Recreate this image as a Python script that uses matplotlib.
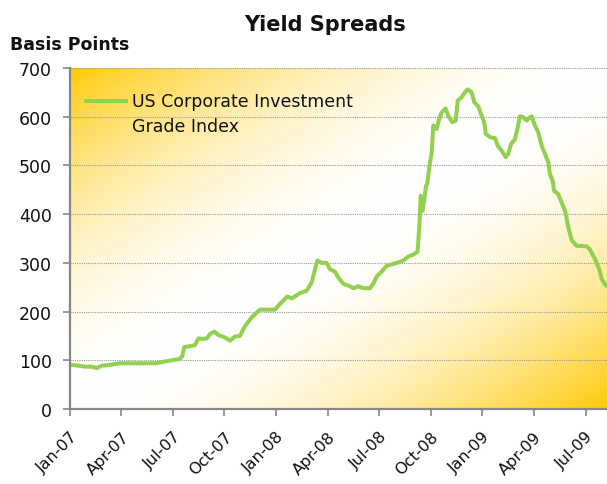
import numpy as np
import matplotlib
matplotlib.use('Agg')
import matplotlib.pyplot as plt

# ---- data (months since Jan-2007, spread in basis points) ----
months = [0.00, 0.50, 0.89, 1.28, 1.57, 1.86, 2.24, 2.92, 3.60, 4.38, 5.06, 5.44,
          5.93, 6.41, 6.55, 6.66, 6.99, 7.28, 7.48, 7.77, 7.97, 8.16, 8.41, 8.64,
          9.03, 9.32, 9.61, 9.90, 10.19, 10.58, 11.06, 11.94, 12.23, 12.65, 12.91,
          13.39, 13.78, 14.07, 14.40, 14.65, 14.94, 15.13, 15.42, 15.62, 15.91,
          16.30, 16.49, 16.78, 17.07, 17.46, 17.65, 17.85, 18.14, 18.43, 18.72,
          19.10, 19.40, 19.69, 19.98, 20.23, 20.33, 20.41, 20.52, 20.66, 20.72,
          20.79, 20.91, 21.05, 21.14, 21.34, 21.43, 21.63, 21.86, 22.01, 22.24,
          22.44, 22.56, 22.79, 22.98, 23.14, 23.37, 23.52, 23.76, 23.95, 24.10,
          24.19, 24.44, 24.73, 24.88, 25.12, 25.35, 25.50, 25.66, 25.89, 26.05,
          26.18, 26.37, 26.57, 26.76, 26.86, 27.05, 27.24, 27.44, 27.63, 27.83,
          27.92, 28.08, 28.16, 28.41, 28.60, 28.80, 28.99, 29.19, 29.48, 30.06,
          30.24, 30.54, 30.79, 30.93, 31.18]
spread_bp = [91, 89, 87, 87, 84, 89, 90, 94, 94, 94, 94, 97,
             100, 103, 109, 127, 129, 131, 145, 144, 145, 154, 159, 152,
             147, 140, 149, 150, 170, 188, 204, 204, 216, 231, 227,
             238, 243, 260, 305, 300, 300, 287, 282, 270, 257,
             252, 248, 252, 248, 248, 257, 272, 282, 294, 297,
             301, 305, 313, 317, 323, 376, 438, 407, 441, 458,
             462, 496, 527, 582, 575, 589, 609, 617, 602, 589,
             592, 633, 640, 650, 656, 650, 630, 621, 602, 589,
             565, 558, 556, 541, 530, 517, 524, 544, 554, 578,
             601, 599, 592, 599, 601, 582, 568, 541, 524, 506,
             482, 469, 448, 441, 424, 407, 373, 346, 335, 334,
             328, 308, 287, 267, 253]
tick_pos = [0, 3, 6, 9, 12, 15, 18, 21, 24, 27, 30]
tick_labels = ['Jan-07', 'Apr-07', 'Jul-07', 'Oct-07', 'Jan-08', 'Apr-08',
               'Jul-08', 'Oct-08', 'Jan-09', 'Apr-09', 'Jul-09']
y_ticks = [0, 100, 200, 300, 400, 500, 600, 700]
series_name = ['US Corporate Investment', 'Grade Index']

XMAX = 31.24
YMAX = 700

fig = plt.figure(figsize=(6.07, 4.85), dpi=100)
fig.patch.set_facecolor('white')
ax = fig.add_axes([0.1148, 0.1546, 0.8852, 0.7031])

# diagonal gradient background: gold corners (top-left, bottom-right), white band
n = 500
u = np.linspace(0, 1, n)
U, V = np.meshgrid(u, u)  # V: 0 at top row
t = (U + V) / 2.0
w = np.clip(np.abs(2 * t - 1), 0, 1) ** 1.9
gold = np.array([1.0, 0.79, 0.02])
img = 1 - w[..., None] * (1 - gold)
ax.imshow(img, extent=[0, XMAX, 0, YMAX], aspect='auto', origin='upper',
          zorder=0, interpolation='bilinear')

# grid
for yv in y_ticks[1:]:
    ax.axhline(yv, color='#9a9a9a', lw=0.8, ls=(0, (1, 1)), zorder=1)

line_color = '#92D050'
ax.plot(months, spread_bp, color=line_color, lw=2.9, zorder=3,
        solid_joinstyle='round', solid_capstyle='round')

ax.set_xlim(0, XMAX)
ax.set_ylim(0, YMAX)
ax.set_yticks(y_ticks)
ax.set_xticks(tick_pos)
ax.set_xticklabels(tick_labels, rotation=45, ha='right', rotation_mode='anchor')

for s in ['top', 'right']:
    ax.spines[s].set_visible(False)
for s in ['left', 'bottom']:
    ax.spines[s].set_color('#868686')
    ax.spines[s].set_linewidth(1.6)
    ax.spines[s].set_zorder(4)

ax.tick_params(axis='both', colors='#868686', width=1.2, length=5,
               labelcolor='#111111', labelsize=12.5)
ax.tick_params(axis='y', pad=8)
ax.tick_params(axis='x', pad=9, labelsize=11.5)

# legend (manual to keep the handle aligned with the first text line)
ax.plot([0.027, 0.108], [0.903, 0.903], transform=ax.transAxes,
        color=line_color, lw=2.9, zorder=5, solid_capstyle='butt')
ax.text(0.116, 0.903, series_name[0], transform=ax.transAxes, va='center',
        ha='left', fontsize=12.5, color='#111111', zorder=5)
ax.text(0.116, 0.830, series_name[1], transform=ax.transAxes, va='center',
        ha='left', fontsize=12.5, color='#111111', zorder=5)

fig.text(0.536, 0.948, 'Yield Spreads', ha='center', va='center',
         fontsize=15, fontweight='bold', color='#111111')
fig.text(0.016, 0.907, 'Basis Points', ha='left', va='center',
         fontsize=12.5, fontweight='bold', color='#111111')

fig.savefig('out.png', dpi=100)
